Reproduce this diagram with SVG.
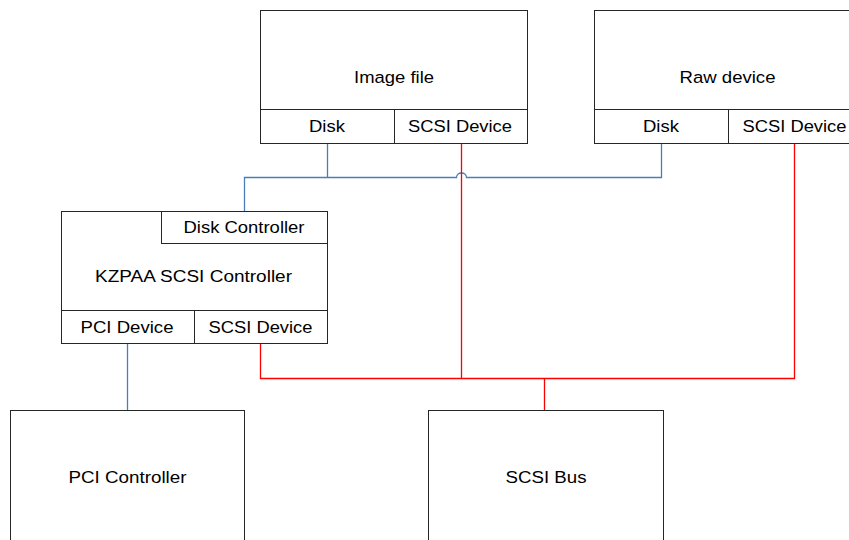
<svg xmlns="http://www.w3.org/2000/svg" width="849" height="540" viewBox="0 0 849 540">
<style>
.box{fill:#ffffff;stroke:#262626;stroke-width:1}
.t{font-family:"Liberation Sans",Arial,sans-serif;font-size:16.3px;fill:#000;text-anchor:middle;dominant-baseline:central}
.blue{fill:none;stroke:#4a7ebb;stroke-width:1.3}
.red{fill:none;stroke:#ff0000;stroke-width:1.3}
</style>
<rect width="849" height="540" fill="#ffffff"/>
<g id="connectors">
<path class="blue" d="M327.5,143 V177.5 M661.5,143 V177.5 H466.5 A5,4.5 0 0 0 456.5,177.5 H244.5 V211"/>
<path class="blue" d="M127.5,343 V410"/>
<path class="red" d="M461.5,143 V378.5 M794.5,143 V378.5 H260.5 V343 M544.5,378.5 V410"/>
</g>
<g id="image-file">
<rect class="box" x="260.5" y="10.5" width="267" height="133"/>
<line class="box" x1="260.5" y1="109.5" x2="527.5" y2="109.5"/>
<line class="box" x1="394.5" y1="109.5" x2="394.5" y2="143.5"/>
<text class="t" x="394" y="76.5" textLength="80" lengthAdjust="spacingAndGlyphs">Image file</text>
<text class="t" x="327" y="125.5" textLength="36" lengthAdjust="spacingAndGlyphs">Disk</text>
<text class="t" x="460" y="125.5" textLength="104" lengthAdjust="spacingAndGlyphs">SCSI Device</text>
</g>
<g id="raw-device">
<rect class="box" x="594.5" y="10.5" width="267" height="133"/>
<line class="box" x1="594.5" y1="109.5" x2="861.5" y2="109.5"/>
<line class="box" x1="728.5" y1="109.5" x2="728.5" y2="143.5"/>
<text class="t" x="727.5" y="76.5" textLength="96" lengthAdjust="spacingAndGlyphs">Raw device</text>
<text class="t" x="661" y="125.5" textLength="36" lengthAdjust="spacingAndGlyphs">Disk</text>
<text class="t" x="794.5" y="125.5" textLength="104" lengthAdjust="spacingAndGlyphs">SCSI Device</text>
</g>
<g id="kzpaa">
<rect class="box" x="61.5" y="211.5" width="266" height="132"/>
<rect class="box" x="161.5" y="211.5" width="166" height="32"/>
<line class="box" x1="61.5" y1="310.5" x2="327.5" y2="310.5"/>
<line class="box" x1="194.5" y1="310.5" x2="194.5" y2="343.5"/>
<text class="t" x="244" y="226.5" textLength="121" lengthAdjust="spacingAndGlyphs">Disk Controller</text>
<text class="t" x="193.5" y="276" textLength="197" lengthAdjust="spacingAndGlyphs">KZPAA SCSI Controller</text>
<text class="t" x="127" y="326.5" textLength="93" lengthAdjust="spacingAndGlyphs">PCI Device</text>
<text class="t" x="260.5" y="326.5" textLength="104" lengthAdjust="spacingAndGlyphs">SCSI Device</text>
</g>
<g id="pci-controller">
<rect class="box" x="10.5" y="410.5" width="234" height="140"/>
<text class="t" x="127.5" y="477" textLength="118" lengthAdjust="spacingAndGlyphs">PCI Controller</text>
</g>
<g id="scsi-bus">
<rect class="box" x="428.5" y="410.5" width="235" height="140"/>
<text class="t" x="546" y="477" textLength="81" lengthAdjust="spacingAndGlyphs">SCSI Bus</text>
</g>
</svg>
